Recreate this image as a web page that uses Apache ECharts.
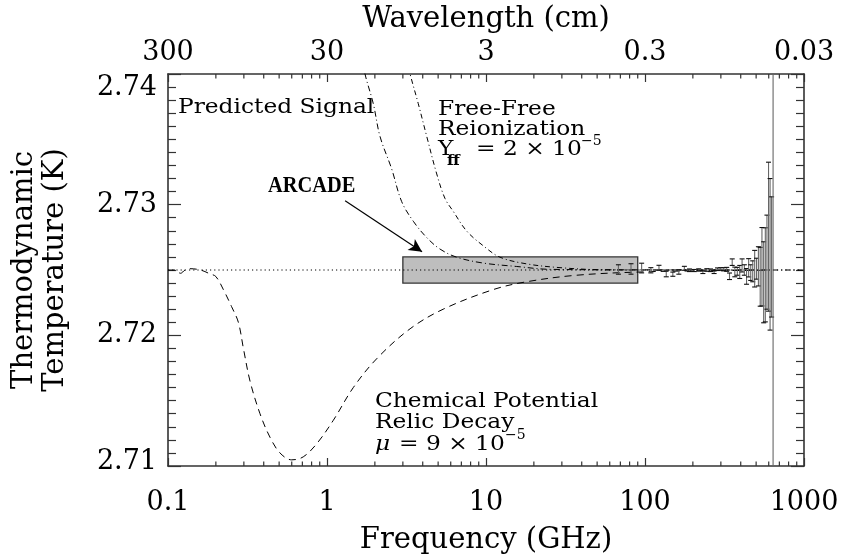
<!DOCTYPE html>
<html><head><meta charset="utf-8">
<script src="https://cdn.jsdelivr.net/npm/echarts@6/dist/echarts.min.js"></script>
<style>html,body{margin:0;padding:0;background:#fff}#c{width:843px;height:560px}</style>
</head><body><div id="c"></div>
<script>
// ---- axis ticks / labels ----
const freqTickValues = [0.1, 1, 10, 100, 1000];
const freqTickLabels = ['0.1', '1', '10', '100', '1000'];
const wavelengthTickLabels = ['300', '30', '3', '0.3', '0.03'];
const tempTickLabels = ['2.71', '2.72', '2.73', '2.74'];
const minorTickFreqs = [0.2,0.3,0.4,0.5,0.6,0.7,0.8,0.9, 2,3,4,5,6,7,8,9, 20,30,40,50,60,70,80,90, 200,300,400,500,600,700,800,900];

// ---- data ----
const cmbLine = [[0.1, 2.725], [1000, 2.725]];
const arcadeFreqRange = [3, 90];
const arcadeTempRange = [2.724, 2.726];
const arcadeArrowFrom = [1.3, 2.7303];
const arcadeArrowTo = [3.96, 2.7264];

const chemPotentialCurve = [
  [0.1, 2.7250], [0.11, 2.7250], [0.12, 2.72475], [0.128, 2.7250], [0.137, 2.7251],
  [0.16, 2.7250], [0.184, 2.7247], [0.2, 2.7245], [0.223, 2.7235], [0.251, 2.7222],
  [0.277, 2.7210], [0.298, 2.7190], [0.328, 2.7165], [0.379, 2.7140], [0.438, 2.7122],
  [0.506, 2.7110], [0.60, 2.71047], [0.709, 2.7107], [0.861, 2.7117], [1.096, 2.7135],
  [1.463, 2.7160], [2.05, 2.7182], [3.33, 2.7205], [5.38, 2.7220], [11.1, 2.7235],
  [18.0, 2.7241], [37.2, 2.7246], [100, 2.72486], [300, 2.72495], [600, 2.72498]
];
const signalCurveLeft = [
  [1.55, 2.7430], [1.734, 2.7400], [1.955, 2.73773], [2.155, 2.73522], [2.552, 2.73273],
  [2.95, 2.73023], [3.49, 2.72873], [4.24, 2.72748], [5.14, 2.72660], [6.54, 2.72598],
  [9.62, 2.72553], [15.6, 2.72527], [25.3, 2.72505], [100, 2.72501], [600, 2.7250]
];
const freeFreeCurve = [
  [3.0, 2.7423], [3.33, 2.7400], [3.75, 2.73773], [4.24, 2.73522], [4.90, 2.73235],
  [5.52, 2.73048], [6.23, 2.72948], [7.56, 2.72798], [9.62, 2.72685], [12.25, 2.72598],
  [18.0, 2.72547], [29.2, 2.72518], [52.1, 2.72502], [100, 2.72500], [1000, 2.7250]
];

const firasFreq = [68.05, 81.65, 95.24, 108.84, 122.43, 136.03, 149.63, 163.22, 176.82, 190.41,
  204.01, 217.61, 231.20, 244.80, 258.39, 271.99, 285.58, 299.18, 312.78, 326.37,
  339.97, 353.56, 367.16, 380.75, 394.35, 407.94, 421.54, 435.14, 448.73, 462.33,
  475.92, 489.52, 503.11, 516.71, 530.30, 543.90, 557.50, 571.09, 584.69, 598.28,
  611.88, 625.47, 639.07];
const firasTemp = [2.72504, 2.72508, 2.72515, 2.72498, 2.72517, 2.72470, 2.72468, 2.72485, 2.72513, 2.72498,
  2.72496, 2.72501, 2.72483, 2.72500, 2.72498, 2.72483, 2.72506, 2.72508, 2.72506, 2.72505,
  2.72452, 2.72560, 2.72485, 2.72490, 2.72485, 2.72535, 2.72500, 2.72451, 2.72517, 2.72480,
  2.72490, 2.72510, 2.72510, 2.72528, 2.72448, 2.72525, 2.72406, 2.72463, 2.72560, 2.72755,
  2.72620, 2.72600, 2.72500];
const firasErr = [0.00036, 0.00040, 0.00037, 0.00020, 0.00019, 0.00022, 0.00016, 0.00017, 0.00015, 0.00010,
  0.00008, 0.00008, 0.00010, 0.00010, 0.00010, 0.00010, 0.00010, 0.00010, 0.00012, 0.00015,
  0.00025, 0.00025, 0.00037, 0.00030, 0.00050, 0.00050, 0.00040, 0.00060, 0.00070, 0.00060,
  0.00080, 0.00140, 0.00080, 0.00150, 0.00225, 0.00300, 0.00310, 0.00360, 0.00360, 0.00570,
  0.00580, 0.00460, 0.04000];

// ---- styling ----
const SERIF = '"DejaVu Serif", serif';
const Y_MIN = 2.71, Y_MAX = 2.74;
const AXIS_COLOR = '#333';

function nearestIdx(arr, v) {
  let best = 0;
  for (let i = 1; i < arr.length; i++) if (Math.abs(Math.log10(arr[i]) - Math.log10(v)) < Math.abs(Math.log10(arr[best]) - Math.log10(v))) best = i;
  return best;
}

const chart = echarts.init(document.getElementById('c'), null, {renderer: 'canvas'});

const baseXAxis = {
  type: 'log', logBase: 10, min: 0.1, max: 1000,
  axisLine: {lineStyle: {color: AXIS_COLOR, width: 1.6}},
  axisTick: {inside: true, length: 8, lineStyle: {color: AXIS_COLOR, width: 1.2}},
  minorTick: {show: false},
  splitLine: {show: false},
  nameLocation: 'middle',
  nameTextStyle: {fontFamily: SERIF, fontSize: 29, color: '#000'}
};
const baseYAxis = {
  type: 'value', min: Y_MIN, max: Y_MAX, interval: 0.01,
  axisLine: {show: true, lineStyle: {color: AXIS_COLOR, width: 1.6}},
  axisTick: {show: true, inside: true, length: 13, lineStyle: {color: AXIS_COLOR, width: 1.2}},
  minorTick: {show: true, splitNumber: 10, length: 8, lineStyle: {color: AXIS_COLOR, width: 1.2}},
  splitLine: {show: false}
};

function txt(left, top, text, font, sx) {
  return {type: 'text', left: left, top: top, scaleX: sx || 1, originX: 0, originY: 0,
    style: {text: text, font: font, fill: '#000'}};
}
const F21 = '21px ' + SERIF;
const SX = 1.11;

const option = {
  animation: false,
  backgroundColor: '#fff',
  grid: {left: 168, right: 39, top: 74, bottom: 87, containLabel: false},
  xAxis: [
    Object.assign({}, baseXAxis, {
      position: 'bottom',
      name: 'Frequency (GHz)', nameGap: 60,
      axisLabel: {fontFamily: SERIF, fontSize: 27, color: '#000', margin: 23,
        formatter: v => freqTickLabels[nearestIdx(freqTickValues, v)]}
    }),
    Object.assign({}, baseXAxis, {
      position: 'top',
      name: 'Wavelength (cm)', nameGap: 32,
      axisLabel: {fontFamily: SERIF, fontSize: 27, color: '#000', margin: 8,
        formatter: v => wavelengthTickLabels[nearestIdx(freqTickValues, v)]}
    })
  ],
  yAxis: [
    Object.assign({}, baseYAxis, {
      position: 'left',
      name: 'Thermodynamic\nTemperature (K)', nameLocation: 'middle', nameGap: 97, nameRotate: 90,
      nameTextStyle: {fontFamily: SERIF, fontSize: 29, color: '#000', lineHeight: 31, align: 'center'},
      axisLabel: {fontFamily: SERIF, fontSize: 27, color: '#000', margin: 11,
        formatter: (v, i) => {
          const k = Math.round((v - Y_MIN) / 0.01);
          const s = tempTickLabels[k];
          if (k === 3) return '{dn|' + s + '}';
          if (k === 0) return '{up|' + s + '}';
          return s;
        },
        rich: {
          dn: {fontFamily: SERIF, fontSize: 27, color: '#000', padding: [27, 0, 0, 0]},
          up: {fontFamily: SERIF, fontSize: 27, color: '#000', padding: [0, 0, 9, 0]}
        }}
    }),
    Object.assign({}, baseYAxis, {
      position: 'right',
      axisLabel: {show: false}
    })
  ],
  series: [
    {
      name: 'ARCADE', type: 'line', data: [], z: 1, silent: true,
      markArea: {
        silent: true,
        label: {show: false},
        itemStyle: {color: '#bebebe', borderColor: '#333', borderWidth: 1.3},
        data: [[{coord: [arcadeFreqRange[0], arcadeTempRange[0]]}, {coord: [arcadeFreqRange[1], arcadeTempRange[1]]}]]
      },
      markLine: {
        silent: true,
        symbol: ['none', 'arrow'],
        symbolSize: [10, 13],
        label: {show: false},
        lineStyle: {color: '#000', width: 1.2, type: 'solid'},
        data: [[{coord: arcadeArrowFrom}, {coord: arcadeArrowTo}]]
      }
    },
    {
      name: 'CMB 2.725 K', type: 'line', data: cmbLine, symbol: 'none', z: 3, silent: true,
      lineStyle: {color: '#000', width: 1, type: [1.2, 3]}
    },
    {
      name: 'Chemical Potential', type: 'line', data: chemPotentialCurve, symbol: 'none', z: 4, silent: true,
      smooth: 0.35, lineStyle: {color: '#000', width: 1, type: [7, 5]}
    },
    {
      name: 'Predicted Signal', type: 'line', data: signalCurveLeft, symbol: 'none', z: 4, silent: true,
      smooth: 0.35, lineStyle: {color: '#000', width: 1, type: [6, 3, 1, 3]}
    },
    {
      name: 'Free-Free', type: 'line', data: freeFreeCurve, symbol: 'none', z: 4, silent: true,
      smooth: 0.35, lineStyle: {color: '#000', width: 1, type: [5, 3, 1, 3]}
    },
    {
      name: 'FIRAS', type: 'custom', z: 5, silent: true,
      data: firasFreq.map((f, i) => [f, firasTemp[i], firasErr[i]]),
      encode: {x: 0, y: 1},
      renderItem: (params, api) => {
        const f = api.value(0), t = api.value(1), e = api.value(2);
        const lo = Math.max(t - e, Y_MIN), hi = Math.min(t + e, Y_MAX);
        const p1 = api.coord([f, lo]), p2 = api.coord([f, hi]);
        const ch = [{type: 'line', shape: {x1: p1[0], y1: p1[1], x2: p2[0], y2: p2[1]},
          style: {stroke: '#666', lineWidth: 1.1}}];
        const cw = 2.5;
        if (t - e > Y_MIN) ch.push({type: 'line', shape: {x1: p1[0] - cw, y1: p1[1], x2: p1[0] + cw, y2: p1[1]}, style: {stroke: '#111', lineWidth: 1.1}});
        if (t + e < Y_MAX) ch.push({type: 'line', shape: {x1: p2[0] - cw, y1: p2[1], x2: p2[0] + cw, y2: p2[1]}, style: {stroke: '#111', lineWidth: 1.1}});
        return {type: 'group', children: ch};
      }
    },
    {
      name: 'minor ticks', type: 'custom', z: 6, silent: true, clip: false,
      data: minorTickFreqs.map(f => [f, Y_MIN]),
      encode: {x: 0, y: 1},
      renderItem: (params, api) => {
        const f = api.value(0);
        const pb = api.coord([f, Y_MIN]), pt = api.coord([f, Y_MAX]);
        const st = {stroke: AXIS_COLOR, lineWidth: 1.2};
        return {type: 'group', children: [
          {type: 'line', shape: {x1: pb[0], y1: pb[1], x2: pb[0], y2: pb[1] - 4.5}, style: st},
          {type: 'line', shape: {x1: pt[0], y1: pt[1], x2: pt[0], y2: pt[1] + 4.5}, style: st}
        ]};
      }
    }
  ],
  graphic: [
    txt(178, 97, 'Predicted Signal', F21, SX),
    txt(438, 99, 'Free-Free', F21, SX),
    txt(438, 119, 'Reionization', F21, SX),
    txt(438, 139, 'Y', F21, SX),
    txt(447, 154, 'ff', 'bold 14px ' + SERIF, SX),
    txt(476, 139, '= 2 × 10', F21, SX),
    txt(581, 134, '−5', '14px ' + SERIF, 1),
    txt(268, 174, 'ARCADE', 'bold 24px "Liberation Serif", serif', 0.85),
    txt(375, 391, 'Chemical Potential', F21, SX),
    txt(375, 412, 'Relic Decay', F21, SX),
    txt(375, 434, 'μ', 'italic 21px ' + SERIF, SX),
    txt(399, 434, '= 9 × 10', F21, SX),
    txt(505, 428, '−5', '14px ' + SERIF, 1)
  ]
};
chart.setOption(option);
</script>
</body></html>
